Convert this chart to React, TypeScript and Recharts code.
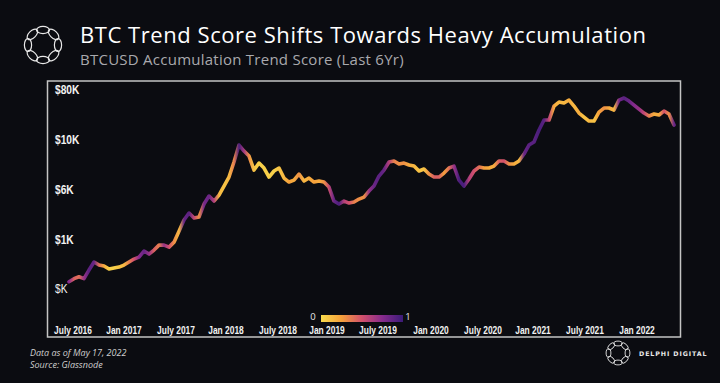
import React from 'react';
import { LineChart, Line, XAxis, YAxis } from 'recharts';

// BTC price (USD), sampled roughly every 2.5 weeks, Jul 2016 -> May 2022
const PRICE = [
  673, 726, 763, 726, 902, 1103, 1023, 997, 925, 948,
  972, 1023, 1103, 1189, 1251, 1455, 1349, 1492, 1689, 1689,
  1606, 1821, 2402, 3174, 3786, 3338, 3423, 4748, 5805, 5120,
  5955, 7469, 9367, 13660, 20960, 18020, 15890, 11170, 13320, 11750,
  9367, 10900, 11750, 9135, 8260, 8686, 10100, 8470, 9135, 8260,
  8470, 8260, 7284, 5120, 4748, 5120, 4869, 4993, 5384, 5662,
  6585, 7469, 9605, 11170, 13660, 14010, 12990, 13320, 12670, 12350,
  10900, 11460, 10100, 9367, 9367, 10360, 11750, 12350, 8686, 7469,
  8908, 10900, 12050, 11750, 11750, 12350, 14010, 14010, 12990, 12990,
  14010, 16710, 20960, 22600, 30570, 39310, 39310, 55900, 61840, 60300,
  65000, 55900, 46880, 42400, 38340, 38340, 48070, 53170, 53170, 50560,
  65000, 68400, 63400, 57340, 51840, 46880, 43480, 45720, 44600, 49300,
  45720, 34670,
];

// accumulation trend score, 0 = distribution (yellow), 1 = heavy accumulation (purple)
const SCORE = [
  0.75, 0.45, 0.4, 0.7, 0.9, 0.85, 0.4, 0.2, 0.05, 0.05,
  0.1, 0.15, 0.35, 0.5, 0.75, 0.85, 0.7, 0.45, 0.35, 0.7,
  0.5, 0.3, 0.15, 0.85, 0.9, 0.55, 0.3, 0.8, 0.85, 0.6,
  0.15, 0.1, 0.15, 0.35, 0.95, 0.65, 0.3, 0.1, 0.05, 0.05,
  0.05, 0.05, 0.1, 0.15, 0.25, 0.2, 0.3, 0.15, 0.2, 0.25,
  0.2, 0.3, 0.55, 0.85, 0.95, 0.6, 0.5, 0.35, 0.3, 0.3,
  0.7, 0.85, 0.9, 0.85, 0.6, 0.35, 0.3, 0.3, 0.2, 0.15,
  0.1, 0.1, 0.3, 0.45, 0.45, 0.25, 0.4, 0.7, 0.95, 0.95,
  0.6, 0.5, 0.4, 0.25, 0.2, 0.2, 0.45, 0.5, 0.3, 0.2,
  0.15, 0.85, 0.9, 0.9, 0.95, 0.9, 0.55, 0.2, 0.15, 0.15,
  0.2, 0.15, 0.2, 0.1, 0.15, 0.1, 0.25, 0.3, 0.2, 0.15,
  0.8, 0.9, 0.85, 0.75, 0.7, 0.55, 0.35, 0.2, 0.2, 0.5,
  0.3, 0.85,
];

const X_TICKS = [0.8, 11, 21.4, 31.4, 41.8, 51.6, 61.8, 72.4, 82.8, 92.8, 103.2, 113.6];
const X_LABELS = [
  'July 2016', 'Jan 2017', 'July 2017', 'Jan 2018', 'July 2018', 'Jan 2019',
  'July 2019', 'Jan 2020', 'July 2020', 'Jan 2021', 'July 2021', 'Jan 2022',
];
const Y_TICKS = [560, 1920, 6760, 23800, 83600];
const Y_LABELS = ['$K', '$1K', '$6K', '$10K', '$80K'];

const CMAP: [number, string][] = [
  [0, '#f9dc4c'],
  [0.25, '#f5a03b'],
  [0.5, '#d2506c'],
  [0.75, '#862b8d'],
  [1, '#3b1b78'],
];

const hex = (h: string) => [1, 3, 5].map((k) => parseInt(h.slice(k, k + 2), 16));

const colorFor = (s: number) => {
  for (let k = 1; k < CMAP.length; k++) {
    if (s <= CMAP[k][0]) {
      const [a0, c0] = CMAP[k - 1];
      const [a1, c1] = CMAP[k];
      const f = (s - a0) / (a1 - a0);
      const p = hex(c0), q = hex(c1);
      const rgb = p.map((v, j) => Math.round(v + (q[j] - v) * f));
      return `rgb(${rgb.join(',')})`;
    }
  }
  return CMAP[CMAP.length - 1][1];
};

const data = PRICE.map((price, i) => ({ t: i, price }));
const FONT_AXIS = '"Liberation Sans", Arial, sans-serif';
const FONT_UI = '"Open Sans", sans-serif';

// narrow bold labels (the original uses a condensed face)
const XTick = (props: any) => {
  const idx = X_TICKS.indexOf(props.payload.value);
  return (
    <text transform={`translate(${props.x},334) scale(0.8,1)`} textAnchor="middle" fill="#f2f2f2"
      style={{ fontFamily: FONT_AXIS, fontSize: 10.5, fontWeight: 700 }}>
      {X_LABELS[idx]}
    </text>
  );
};

const YTick = (props: any) => {
  const idx = Y_TICKS.indexOf(props.payload.value);
  return (
    <text transform={`translate(55,${props.y + 4}) scale(0.85,1)`} textAnchor="start" fill="#f2f2f2"
      style={{ fontFamily: FONT_AXIS, fontSize: 12, fontWeight: idx === 0 ? 400 : 700 }}>
      {Y_LABELS[idx]}
    </text>
  );
};

const RingLogo = ({ cx, cy, r, loops, rx, ry, sw }: { cx: number; cy: number; r: number; loops: number; rx: number; ry: number; sw: number }) => (
  <g fill="none" stroke="#e8e8e8" strokeWidth={sw}>
    {Array.from({ length: loops }).map((_, k) => {
      const a = (k * 360) / loops;
      return (
        <ellipse key={k} cx={cx} cy={cy - r} rx={rx} ry={ry}
          transform={`rotate(${a} ${cx} ${cy})`} />
      );
    })}
  </g>
);

const App: React.FC = () => {
  const n = SCORE.length;
  return (
    <div style={{ position: 'fixed', left: 0, top: 0, width: 720, height: 383, background: '#0b0c11', overflow: 'hidden' }}>
      <svg width={720} height={383} style={{ position: 'absolute', left: 0, top: 0 }}>
        <RingLogo cx={43} cy={45} r={15} loops={8} rx={6.5} ry={3.6} sw={1.2} />
        <RingLogo cx={618} cy={353} r={9.5} loops={8} rx={4.2} ry={2.4} sw={0.9} />
        <text x={80} y={43} fill="#ffffff" style={{ fontFamily: FONT_UI, fontSize: 22, letterSpacing: 0.55 }}>
          BTC Trend Score Shifts Towards Heavy Accumulation
        </text>
        <text x={80} y={65} fill="#a9a9ad" style={{ fontFamily: FONT_UI, fontSize: 15, letterSpacing: 0.25 }}>
          BTCUSD Accumulation Trend Score (Last 6Yr)
        </text>
        <text x={30} y={356} fill="#cfcfcf" style={{ fontFamily: FONT_UI, fontSize: 9, fontStyle: 'italic' }}>
          Data as of May 17, 2022
        </text>
        <text x={30} y={368} fill="#cfcfcf" style={{ fontFamily: FONT_UI, fontSize: 9, fontStyle: 'italic' }}>
          Source: Glassnode
        </text>
        <text x={639} y={355.5} fill="#e8e8e8" style={{ fontFamily: '"DejaVu Sans", sans-serif', fontSize: 6.3, fontWeight: 700, letterSpacing: 0.9 }}>
          DELPHI DIGITAL
        </text>
        <rect x={47.5} y={81} width={633} height={256} fill="none" stroke="#c4c4c4" strokeWidth={1.5} />
        <defs>
          <linearGradient id="cbar" x1="0" y1="0" x2="1" y2="0">
            {CMAP.map(([o, c]) => <stop key={o} offset={o} stopColor={c} />)}
          </linearGradient>
        </defs>
        <rect x={321} y={315} width={82} height={7} fill="url(#cbar)" />
        <text x={313} y={320} textAnchor="middle" fill="#e8e8e8" style={{ fontFamily: FONT_UI, fontSize: 9.5 }}>0</text>
        <text x={408} y={320} textAnchor="middle" fill="#e8e8e8" style={{ fontFamily: FONT_UI, fontSize: 9.5 }}>1</text>
      </svg>
      <div style={{ position: 'absolute', left: 0, top: 0 }}>
        <LineChart width={720} height={383} data={data} margin={{ top: 81, right: 46, bottom: 28, left: 68 }}>
          <defs>
            <linearGradient id="trend" x1="0" y1="0" x2="1" y2="0">
              {SCORE.map((s, i) => (
                <stop key={i} offset={i / (n - 1)} stopColor={colorFor(s)} />
              ))}
            </linearGradient>
          </defs>
          <XAxis dataKey="t" type="number" domain={[0, n - 1]} ticks={X_TICKS} interval={0}
            height={20} axisLine={false} tickLine={false} tick={<XTick />} />
          <YAxis type="number" scale="log" domain={[176, 105000]} allowDataOverflow ticks={Y_TICKS}
            interval={0} width={1} axisLine={false} tickLine={false} tick={<YTick />} />
          <Line type="linear" dataKey="price" stroke="url(#trend)" strokeWidth={3.6}
            strokeLinejoin="round" strokeLinecap="round" dot={false} isAnimationActive={false} />
        </LineChart>
      </div>
    </div>
  );
};

export default App;
